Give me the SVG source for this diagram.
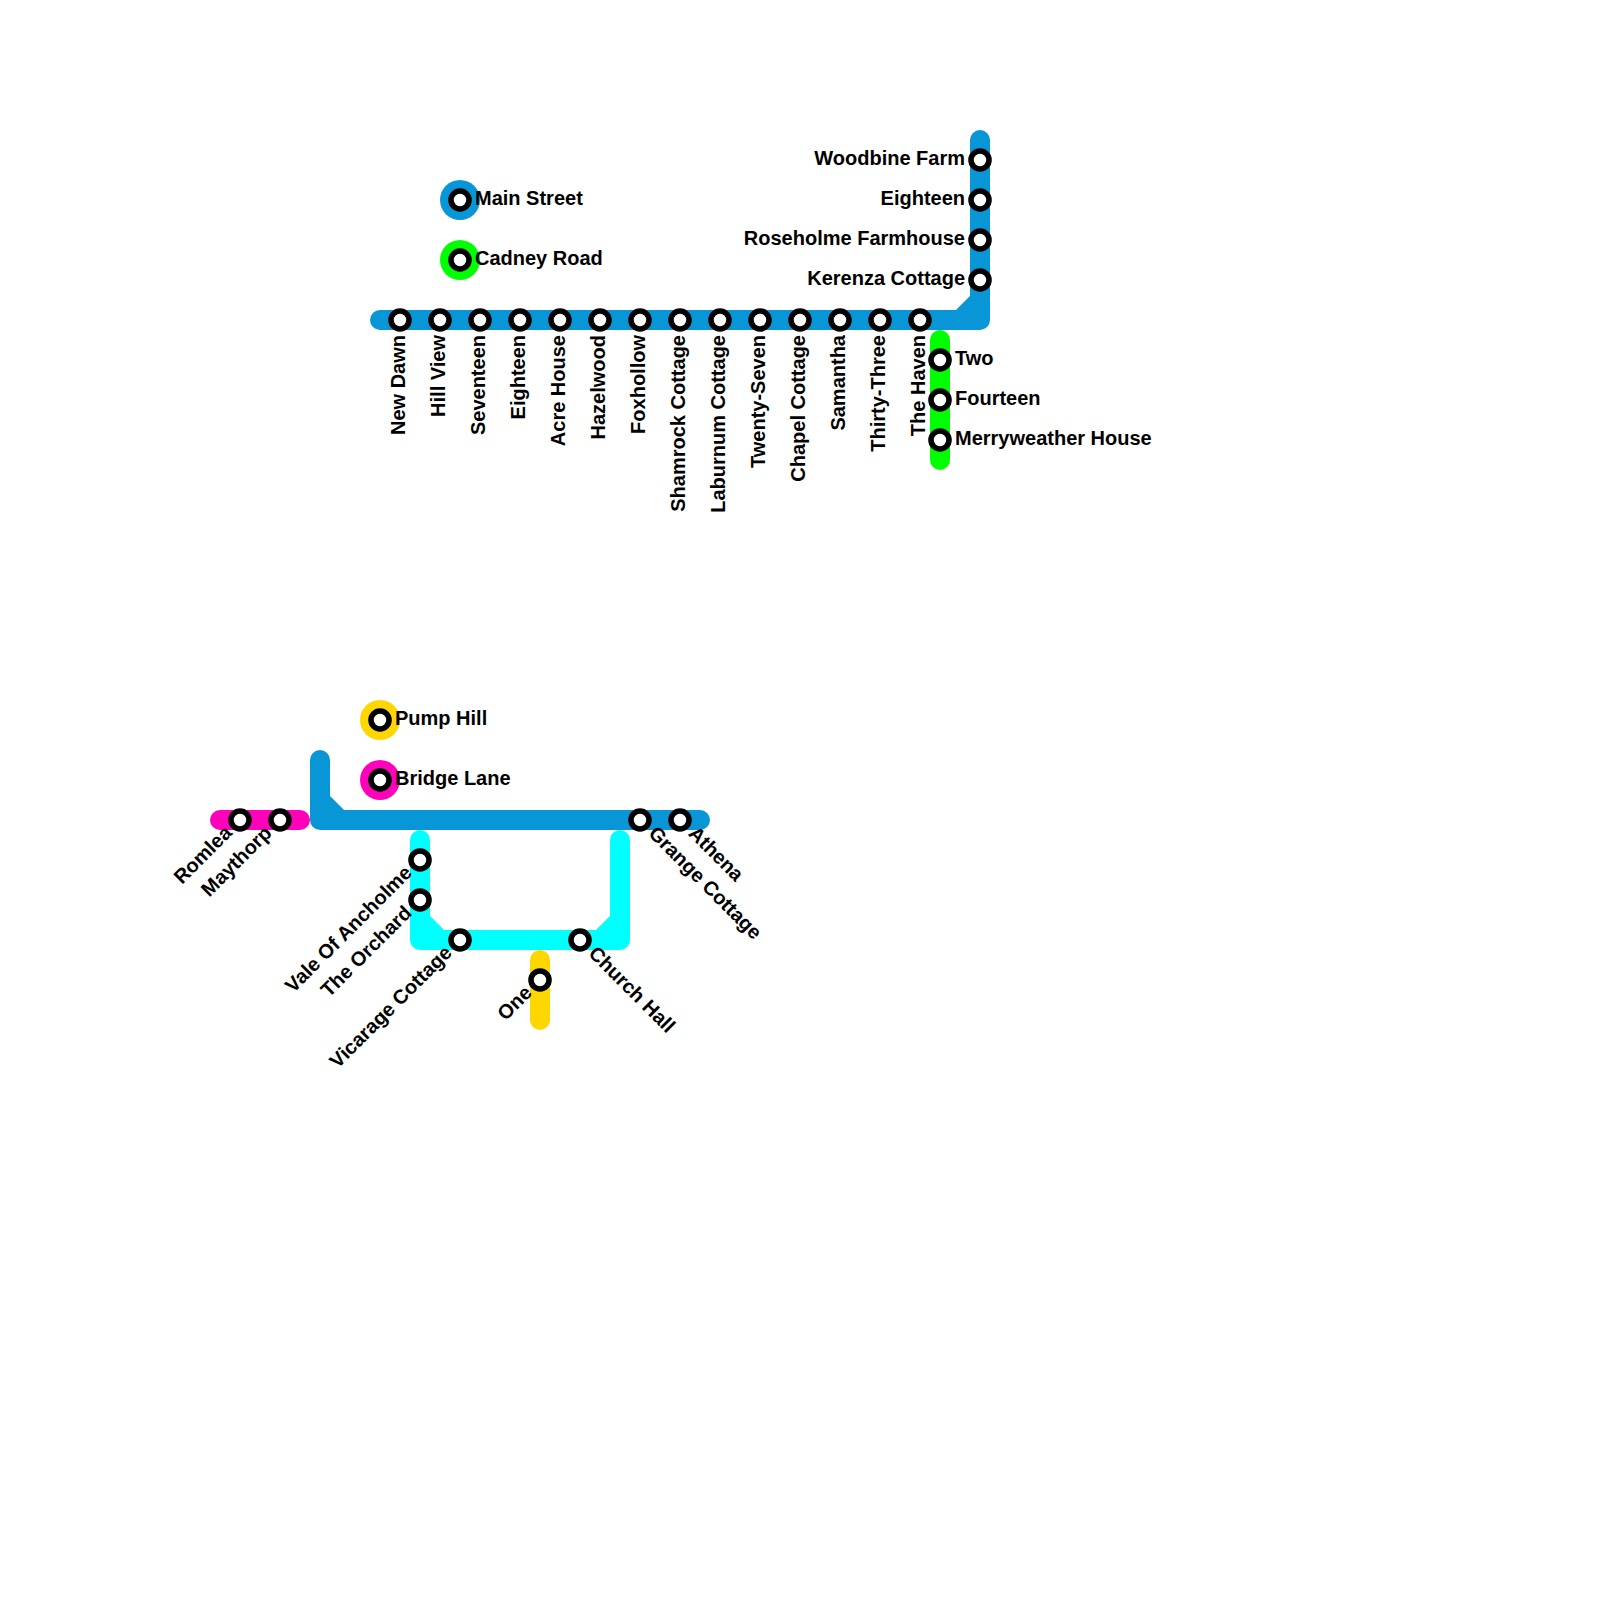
<svg xmlns="http://www.w3.org/2000/svg" width="1600" height="1600" viewBox="0 0 1600 1600">
<style>
.l{fill:none;stroke-width:20;stroke-linecap:round;stroke-linejoin:round}
.d{fill:none;stroke-width:20;stroke-linecap:butt}
.s{fill:#fff;stroke:#000;stroke-width:5.6}
text{font-family:"Liberation Sans",Arial,sans-serif;font-weight:700;font-size:20px;fill:#000}
.e{text-anchor:end}
</style>
<rect width="1600" height="1600" fill="#fff"/>
<g id="connectors">
<g stroke="#0896d7"><path class="l" d="M380 320H980V140"/><path class="d" d="M960 320L980 300"/><path class="l" d="M320 760V820H700"/><path class="d" d="M320 800L340 820"/></g>
<path class="l" stroke="#00ff00" d="M940 340V460"/>
<path class="l" stroke="#ff00bb" d="M220 820H300"/>
<g stroke="#00ffff"><path class="l" d="M420 840V940H620V840"/><path class="d" d="M420 920L440 940M600 940L620 920"/></g>
<path class="l" stroke="#ffd700" d="M540 960V1020"/>
</g>
<g id="n-main-street"><circle cx="460" cy="200" r="20" fill="#0896d7"/><circle class="s" cx="460" cy="200" r="9"/><text x="475" y="205">Main Street</text></g>
<g id="n-cadney-road"><circle cx="460" cy="260" r="20" fill="#00ff00"/><circle class="s" cx="460" cy="260" r="9"/><text x="475" y="265">Cadney Road</text></g>
<g id="n-pump-hill"><circle cx="380" cy="720" r="20" fill="#ffd700"/><circle class="s" cx="380" cy="720" r="9"/><text x="395" y="725">Pump Hill</text></g>
<g id="n-bridge-lane"><circle cx="380" cy="780" r="20" fill="#ff00bb"/><circle class="s" cx="380" cy="780" r="9"/><text x="395" y="785">Bridge Lane</text></g>
<g id="n-new-dawn"><circle class="s" cx="400" cy="320" r="9"/><text class="e" transform="translate(405 335) rotate(-90)">New Dawn</text></g>
<g id="n-hill-view"><circle class="s" cx="440" cy="320" r="9"/><text class="e" transform="translate(445 335) rotate(-90)">Hill View</text></g>
<g id="n-seventeen"><circle class="s" cx="480" cy="320" r="9"/><text class="e" transform="translate(485 335) rotate(-90)">Seventeen</text></g>
<g id="n-eighteen-a"><circle class="s" cx="520" cy="320" r="9"/><text class="e" transform="translate(525 335) rotate(-90)">Eighteen</text></g>
<g id="n-acre-house"><circle class="s" cx="560" cy="320" r="9"/><text class="e" transform="translate(565 335) rotate(-90)">Acre House</text></g>
<g id="n-hazelwood"><circle class="s" cx="600" cy="320" r="9"/><text class="e" transform="translate(605 335) rotate(-90)">Hazelwood</text></g>
<g id="n-foxhollow"><circle class="s" cx="640" cy="320" r="9"/><text class="e" transform="translate(645 335) rotate(-90)">Foxhollow</text></g>
<g id="n-shamrock"><circle class="s" cx="680" cy="320" r="9"/><text class="e" transform="translate(685 335) rotate(-90)">Shamrock Cottage</text></g>
<g id="n-laburnum"><circle class="s" cx="720" cy="320" r="9"/><text class="e" transform="translate(725 335) rotate(-90)">Laburnum Cottage</text></g>
<g id="n-twenty-seven"><circle class="s" cx="760" cy="320" r="9"/><text class="e" transform="translate(765 335) rotate(-90)">Twenty-Seven</text></g>
<g id="n-chapel"><circle class="s" cx="800" cy="320" r="9"/><text class="e" transform="translate(805 335) rotate(-90)">Chapel Cottage</text></g>
<g id="n-samantha"><circle class="s" cx="840" cy="320" r="9"/><text class="e" transform="translate(845 335) rotate(-90)">Samantha</text></g>
<g id="n-thirty-three"><circle class="s" cx="880" cy="320" r="9"/><text class="e" transform="translate(885 335) rotate(-90)">Thirty-Three</text></g>
<g id="n-the-haven"><circle class="s" cx="920" cy="320" r="9"/><text class="e" transform="translate(925 335) rotate(-90)">The Haven</text></g>
<g id="n-woodbine"><circle class="s" cx="980" cy="160" r="9"/><text class="e" x="965" y="165">Woodbine Farm</text></g>
<g id="n-eighteen-b"><circle class="s" cx="980" cy="200" r="9"/><text class="e" x="965" y="205">Eighteen</text></g>
<g id="n-roseholme"><circle class="s" cx="980" cy="240" r="9"/><text class="e" x="965" y="245">Roseholme Farmhouse</text></g>
<g id="n-kerenza"><circle class="s" cx="980" cy="280" r="9"/><text class="e" x="965" y="285">Kerenza Cottage</text></g>
<g id="n-two"><circle class="s" cx="940" cy="360" r="9"/><text x="955" y="365">Two</text></g>
<g id="n-fourteen"><circle class="s" cx="940" cy="400" r="9"/><text x="955" y="405">Fourteen</text></g>
<g id="n-merryweather"><circle class="s" cx="940" cy="440" r="9"/><text x="955" y="445">Merryweather House</text></g>
<g id="n-romlea"><circle class="s" cx="240" cy="820" r="9"/><text class="e" transform="translate(233 834) rotate(-45)">Romlea</text></g>
<g id="n-maythorp"><circle class="s" cx="280" cy="820" r="9"/><text class="e" transform="translate(273 834) rotate(-45)">Maythorp</text></g>
<g id="n-vale"><circle class="s" cx="420" cy="860" r="9"/><text class="e" transform="translate(413 874) rotate(-45)">Vale Of Ancholme</text></g>
<g id="n-orchard"><circle class="s" cx="420" cy="900" r="9"/><text class="e" transform="translate(413 914) rotate(-45)">The Orchard</text></g>
<g id="n-vicarage"><circle class="s" cx="460" cy="940" r="9"/><text class="e" transform="translate(453 954) rotate(-45)">Vicarage Cottage</text></g>
<g id="n-one"><circle class="s" cx="540" cy="980" r="9"/><text class="e" transform="translate(533 994) rotate(-45)">One</text></g>
<g id="n-church-hall"><circle class="s" cx="580" cy="940" r="9"/><text transform="translate(587.5 954.5) rotate(45)">Church Hall</text></g>
<g id="n-grange"><circle class="s" cx="640" cy="820" r="9"/><text transform="translate(647.5 834.5) rotate(45)">Grange Cottage</text></g>
<g id="n-athena"><circle class="s" cx="680" cy="820" r="9"/><text transform="translate(687.5 834.5) rotate(45)">Athena</text></g>
</svg>
